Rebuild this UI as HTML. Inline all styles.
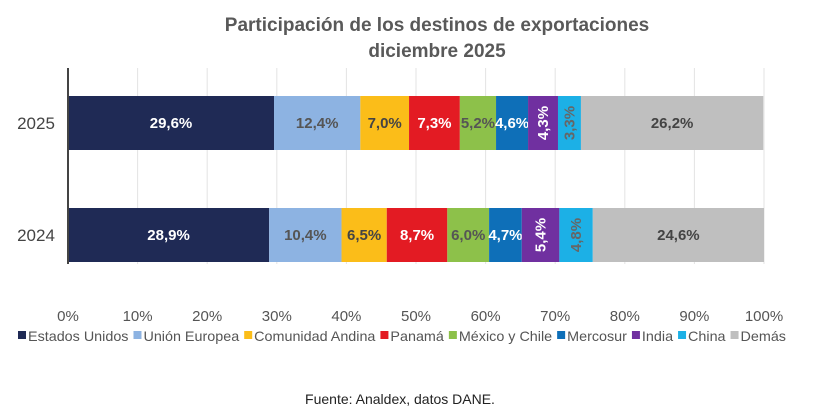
<!DOCTYPE html>
<html><head><meta charset="utf-8"><style>
body{margin:0;background:#fff;font-family:"Liberation Sans",sans-serif}
#c{position:relative;width:816px;height:417px;overflow:hidden}
</style></head><body>
<div id="c">
<svg width="816" height="417" id="svg">
<text x="437" y="31" text-anchor="middle" font-size="19" font-weight="bold" fill="#595959">Participación de los destinos de exportaciones</text>
<text x="437" y="57" text-anchor="middle" font-size="19" font-weight="bold" fill="#595959">diciembre 2025</text>
<g id="grid"></g><g id="bars"></g><g id="axis"></g><g id="legend"></g>
<text x="400" y="404" text-anchor="middle" font-size="14" fill="#222">Fuente: Analdex, datos DANE.</text>
</svg></div>
<script>
const categories=["2025","2024"];
const seriesNames=["Estados Unidos","Unión Europea","Comunidad Andina","Panamá","México y Chile","Mercosur","India","China","Demás"];
const values2025=[29.6,12.4,7.0,7.3,5.2,4.6,4.3,3.3,26.2];
const values2024=[28.9,10.4,6.5,8.7,6.0,4.7,5.4,4.8,24.6];
const ticks=[0,10,20,30,40,50,60,70,80,90,100];
const colors=["#1f2a55","#8db3e2","#fbbd19","#e31b23","#8dc14a","#0e6fb8","#7030a0","#1cb0e6","#bfbfbf"];
const labelColors=["#fff","#555","#444","#fff","#555","#fff","#fff","#666","#444"];
const rotated=[false,false,false,false,false,false,true,true,false];
const NS="http://www.w3.org/2000/svg";
const x0=68,x1=764,bh=54;
const xs=v=>x0+(x1-x0)*v/100;
const ys=i=>96+i*112;
function mk(t,a,p){const e=document.createElementNS(NS,t);for(const k in a)e.setAttribute(k,a[k]);p.appendChild(e);return e;}
const g=document.getElementById('grid'),b=document.getElementById('bars'),ax=document.getElementById('axis'),lg=document.getElementById('legend');
ticks.forEach(t=>{
 const l=mk('line',{x1:xs(t),x2:xs(t),y1:68,y2:264,stroke:'#e3e3e3'},g);
 
 
 const tx=mk('text',{x:xs(t),y:321,'text-anchor':'middle','font-size':15,fill:'#555'},ax);
 tx.textContent=t+'%';
 
 
});
const al=mk('line',{x1:x0,x2:x0,y1:68,y2:264,stroke:'#444','stroke-width':2},ax);


[values2025,values2024].forEach((vals,ci)=>{
 const y=ys(ci);let cum=0;
 const yl=mk('text',{x:36,y:y+bh/2+6,'text-anchor':'middle','font-size':17,fill:'#444'},ax);
 yl.textContent=categories[ci];
 
 
 vals.forEach((v,i)=>{
  const xa=xs(cum),xb=xs(cum+v);cum+=v;
  const r=mk('rect',{x:xa,y:y,width:xb-xa,height:bh,fill:colors[i]},b);
  
  
  const cx=(xa+xb)/2,cy=y+bh/2;
  const t=mk('text',{x:cx,y:cy+5,'text-anchor':'middle','font-size':15,'font-weight':'bold',fill:labelColors[i]},b);
  if(rotated[i]){t.setAttribute('transform','rotate(-90 '+cx+' '+cy+')');}
  t.textContent=v.toFixed(1).replace('.',',')+'%';
  
  
 });
});
// legend: measure, then stretch to span 18..786
const texts=[];let total=0;
seriesNames.forEach((n,i)=>{
 const t=mk('text',{x:0,y:341,'font-size':14,fill:'#555'},lg);
 t.textContent=n;
 
 
 const w=t.getComputedTextLength();texts.push([t,w]);total+=w;
});
const fixed=seriesNames.length*(10+5)-5;
const k=(786-18-fixed)/total;
let lx=18;
texts.forEach(([t,w],i)=>{
 const r=mk('rect',{x:lx,y:331,width:8,height:8,fill:colors[i]},lg);
 
 
 t.setAttribute('x',lx+10);
 t.setAttribute('textLength',w*k);
 t.setAttribute('lengthAdjust','spacingAndGlyphs');
 lx+=10+w*k+5;
});
</script>
</body></html>
